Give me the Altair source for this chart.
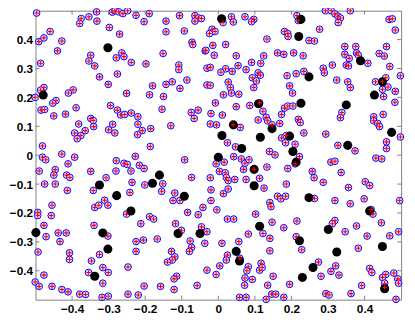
import altair as alt
import pandas as pd

# red "+" inside blue "o" points
red_x = [
    -0.497, -0.491, -0.477, -0.460, -0.486, -0.428, -0.440, -0.375, -0.379, -0.354, -0.333, -0.332, -0.298,
    -0.349, -0.354, -0.338, -0.325, -0.301, -0.477, -0.486, -0.501, -0.397, -0.410, -0.444, -0.453,
    -0.290, -0.283, -0.272, -0.261, -0.248, -0.225, -0.189, -0.203, -0.143, -0.106, -0.064, -0.055, -0.046,
    -0.064, -0.270, -0.143, -0.093, -0.072, -0.070, -0.036, -0.264, -0.279, -0.258, -0.238, -0.198, -0.151,
    -0.108, -0.108, -0.031, -0.276, -0.180, -0.143, -0.126, -0.086, -0.105, -0.251, -0.188, -0.150, -0.031,
    -0.295,
    0.036, 0.013, 0.041, 0.073, 0.097, 0.091, 0.215, 0.219, -0.017, -0.009, -0.024, 0.181, 0.190, 0.191,
    0.133, -0.015, 0.020, -0.034, -0.011, 0.049, 0.124, 0.162, 0.179, 0.206, 0.232, 0.091, 0.116, 0.054,
    -0.022, 0.020, 0.007, 0.038, 0.076, 0.109, 0.115, 0.093, 0.104, 0.188, 0.213, 0.234, 0.027, -0.022,
    0.033, 0.097, 0.195, 0.036, 0.014, 0.056, 0.203, -0.008, 0.113,
    0.293, 0.309, 0.319, 0.327, 0.334, 0.328, 0.361, 0.467, 0.476, 0.484, 0.277, 0.248, 0.263, 0.346,
    0.376, 0.346, 0.378, 0.383, 0.358, 0.460, 0.440, 0.454, 0.409, 0.350, 0.356, 0.312, 0.287, 0.290,
    0.469, 0.498, 0.324, 0.354, 0.361, 0.430, 0.458, 0.464, 0.449, 0.484, 0.452, 0.483, 0.449,
    -0.485, -0.475, -0.450, -0.418, -0.389, -0.382, -0.349, -0.342, -0.341, -0.393, -0.376, -0.386, -0.364,
    -0.300, -0.481, -0.481, -0.472, -0.428, -0.393, -0.411, -0.490, -0.446, -0.450, -0.415, -0.406, -0.349,
    -0.475, -0.446, -0.307, -0.413, -0.342, -0.311,
    -0.276, -0.267, -0.256, -0.238, -0.220, -0.220, -0.208, -0.221, -0.289, -0.283, -0.185, -0.154, -0.130,
    -0.074, -0.066, -0.055, -0.186, -0.227, -0.279, -0.258, -0.249, -0.216, -0.203, -0.280, -0.239, -0.092,
    -0.152, -0.236, -0.201, -0.073, -0.242, -0.155, -0.119, -0.105, -0.124,
    0.049, 0.086, 0.122, 0.181, 0.190, 0.204, -0.020, 0.011, -0.022, -0.005, 0.041, 0.060, 0.109, 0.131,
    0.135, 0.147, 0.173, 0.168, 0.219, 0.224, 0.173, 0.186, 0.184, 0.210, 0.025, 0.047, 0.140, 0.155,
    0.234, -0.006, 0.016, 0.042, 0.063, 0.073, 0.084, 0.069, 0.133, 0.210, 0.222, 0.190, -0.022, 0.003,
    0.019, 0.022, 0.027, 0.045, 0.076, 0.113, 0.186, 0.125, -0.020, 0.014, 0.027, 0.162, 0.171, 0.184,
    -0.020, 0.141, 0.098,
    0.338, 0.334, 0.425, 0.425, 0.436, 0.441, 0.451, 0.498, 0.294, 0.327, 0.374, 0.460, 0.460, 0.431,
    0.447, 0.308, 0.319, 0.257, 0.262, 0.287, 0.336, 0.356, 0.402, 0.414, 0.263, 0.319, 0.361, 0.399,
    0.496,
    -0.494, -0.494, -0.455, -0.457, -0.477, -0.471, -0.438, -0.416, -0.433, -0.493, -0.407, -0.407, -0.477,
    -0.501, -0.490, -0.455, -0.428, -0.411, -0.379, -0.363, -0.318, -0.301, -0.338, -0.327, -0.302, -0.325,
    -0.347, -0.316, -0.301, -0.355, -0.316, -0.340,
    -0.302, -0.251, -0.188, -0.177, -0.084, -0.055, -0.042, -0.212, -0.117, -0.101, -0.046, -0.225, -0.205,
    -0.167, -0.225, -0.128, -0.119, -0.126, -0.139, -0.077, -0.073, -0.079, -0.247, -0.114, -0.121, -0.031,
    -0.203, -0.158, -0.121, -0.058, -0.247, -0.219,
    -0.004, 0.025, 0.042, 0.102, 0.144, 0.147, 0.179, 0.215, -0.031, -0.037, 0.010, 0.082, 0.122, 0.141,
    0.056, 0.059, 0.025, 0.022, 0.141, 0.228, 0.213, 0.004, -0.006, 0.082, 0.078, 0.113, 0.117, 0.120,
    0.073, 0.093, 0.072, 0.150, 0.135, 0.195, 0.058, 0.076, 0.131, 0.146, 0.157, 0.179,
    0.423, 0.418, 0.319, 0.312, 0.378, 0.446, 0.347, 0.407, 0.469, 0.493, 0.383, 0.274, 0.281, 0.308,
    0.321, 0.330, 0.414, 0.420, 0.458, 0.449, 0.455, 0.455, 0.480, 0.491, 0.493, 0.392, 0.294, 0.303,
    0.363, 0.486,
]
red_y = [
    0.492, 0.393, 0.406, 0.428, 0.318, 0.395, 0.361, 0.473, 0.456, 0.479, 0.496, 0.464, 0.442,
    0.346, 0.326, 0.309, 0.271, 0.245, 0.234, 0.225, 0.200, 0.226, 0.215, 0.189, 0.180,
    0.495, 0.500, 0.496, 0.490, 0.500, 0.484, 0.490, 0.462, 0.464, 0.483, 0.483, 0.475, 0.473,
    0.464, 0.419, 0.427, 0.430, 0.391, 0.383, 0.361, 0.354, 0.337, 0.341, 0.321, 0.316, 0.352,
    0.312, 0.296, 0.301, 0.281, 0.240, 0.245, 0.254, 0.260, 0.231, 0.214, 0.209, 0.203, 0.243,
    0.172,
    0.479, 0.459, 0.461, 0.479, 0.470, 0.462, 0.483, 0.466, 0.436, 0.428, 0.421, 0.428, 0.421, 0.411,
    0.402, 0.380, 0.383, 0.363, 0.346, 0.344, 0.344, 0.354, 0.349, 0.354, 0.344, 0.321, 0.318, 0.310,
    0.304, 0.299, 0.287, 0.290, 0.296, 0.285, 0.277, 0.268, 0.257, 0.275, 0.282, 0.290, 0.253, 0.242,
    0.234, 0.234, 0.240, 0.215, 0.209, 0.211, 0.215, 0.181, 0.181,
    0.500, 0.500, 0.489, 0.481, 0.475, 0.459, 0.500, 0.470, 0.472, 0.433, 0.436, 0.397, 0.395, 0.376,
    0.376, 0.349, 0.354, 0.346, 0.335, 0.376, 0.352, 0.343, 0.318, 0.312, 0.309, 0.312, 0.301, 0.285,
    0.307, 0.275, 0.260, 0.254, 0.234, 0.254, 0.268, 0.236, 0.228, 0.221, 0.203, 0.183, 0.254,
    0.156, 0.158, 0.136, 0.142, 0.164, 0.108, 0.127, 0.120, 0.099, 0.077, 0.068, 0.057, 0.085,
    0.088, 0.032, -0.007, -0.016, 0.004, -0.007, -0.030, -0.055, -0.050, -0.069, -0.069, -0.077, -0.056,
    -0.100, -0.100, -0.078, -0.122, -0.122, -0.156,
    0.156, 0.139, 0.141, 0.146, 0.133, 0.107, 0.085, 0.071, 0.107, 0.077, 0.092, 0.159, 0.102,
    0.148, 0.127, 0.156, 0.030, -0.004, -0.019, -0.028, -0.032, -0.035, -0.046, -0.055, -0.055, -0.016,
    -0.099, -0.094, -0.103, -0.077, -0.129, -0.125, -0.131, -0.157, -0.157,
    0.168, 0.172, 0.152, 0.163, 0.170, 0.170, 0.144, 0.139, 0.108, 0.105, 0.105, 0.096, 0.122, 0.131,
    0.119, 0.105, 0.141, 0.110, 0.124, 0.113, 0.060, 0.068, 0.043, 0.038, 0.043, 0.029, 0.013, 0.001,
    0.077, -0.030, -0.024, -0.005, -0.013, -0.028, -0.016, -0.049, -0.041, -0.030, -0.005, -0.046, -0.078, -0.056,
    -0.061, -0.077, -0.088, -0.084, -0.084, -0.080, -0.100, -0.114, -0.120, -0.133, -0.117, -0.142, -0.151, -0.142,
    -0.157, -0.164, -0.049,
    0.148, 0.130, 0.133, 0.119, 0.110, 0.099, 0.141, 0.063, 0.073, 0.034, 0.015, 0.046, 0.023, -0.010,
    -0.013, -0.024, -0.021, -0.056, -0.078, -0.094, -0.060, -0.112, -0.092, -0.105, -0.150, -0.157, -0.168, -0.151,
    -0.157,
    -0.198, -0.209, -0.173, -0.209, -0.243, -0.282, -0.269, -0.269, -0.299, -0.335, -0.338, -0.361, -0.415,
    -0.439, -0.454, -0.454, -0.465, -0.473, -0.481, -0.482, -0.492, -0.488, -0.181, -0.173, -0.280, -0.344,
    -0.366, -0.389, -0.406, -0.406, -0.443, -0.243,
    -0.173, -0.204, -0.213, -0.221, -0.198, -0.206, -0.181, -0.237, -0.237, -0.260, -0.248, -0.299, -0.294,
    -0.290, -0.333, -0.333, -0.352, -0.363, -0.370, -0.297, -0.319, -0.333, -0.387, -0.419, -0.428, -0.398,
    -0.453, -0.454, -0.465, -0.451, -0.481, -0.484,
    -0.189, -0.221, -0.221, -0.204, -0.178, -0.232, -0.251, -0.228, -0.265, -0.305, -0.305, -0.273, -0.271, -0.288,
    -0.299, -0.357, -0.346, -0.363, -0.331, -0.327, -0.282, -0.383, -0.413, -0.386, -0.400, -0.398, -0.374, -0.389,
    -0.425, -0.430, -0.450, -0.419, -0.450, -0.447, -0.492, -0.492, -0.499, -0.481, -0.481, -0.492,
    -0.204, -0.188, -0.226, -0.237, -0.245, -0.234, -0.265, -0.280, -0.279, -0.265, -0.322, -0.370, -0.419, -0.402,
    -0.383, -0.415, -0.392, -0.406, -0.413, -0.423, -0.443, -0.458, -0.408, -0.428, -0.443, -0.451, -0.479, -0.484,
    -0.479, -0.499,
]

# black filled dots
black_x = [
    -0.302, -0.479, 0.009, 0.226, 0.220, 0.110, 0.226, 0.389, 0.248, 0.449, 0.427, 0.350,
    -0.325, -0.161, -0.180, -0.278, -0.093, 0.041, 0.147, 0.195, 0.010, 0.115, 0.064, 0.204,
    0.000, 0.098, 0.213, 0.098, 0.474, 0.354, 0.248, -0.499, -0.316, -0.302, -0.338, -0.239,
    -0.110, -0.050, 0.113, 0.049, 0.058, 0.222, 0.230, 0.414, 0.301, 0.449, 0.324, 0.259, 0.455,
]
black_y = [
    0.372, 0.208, 0.472, 0.470, 0.411, 0.178, 0.180, 0.327, 0.271, 0.254, 0.208, 0.174,
    -0.103, -0.069, -0.097, -0.140, -0.142, 0.105, 0.092, 0.066, 0.068, 0.062, 0.023, 0.013,
    -0.007, -0.049, -0.024, -0.106, 0.079, 0.034, -0.147, -0.268, -0.269, -0.325, -0.419, -0.193,
    -0.271, -0.271, -0.246, -0.333, -0.366, -0.296, -0.423, -0.193, -0.257, -0.316, -0.335, -0.389, -0.462,
]

tick_values = [-0.4, -0.3, -0.2, -0.1, 0.0, 0.1, 0.2, 0.3, 0.4]

red_df = pd.DataFrame({"x": red_x, "y": red_y})
black_df = pd.DataFrame({"x": black_x, "y": black_y})
tick_df = pd.DataFrame({"x": tick_values, "y": tick_values})

W, H = 372, 294
FRAME = "#808080"
label_expr = "datum.value == 0 ? '0' : format(datum.value, '.1f')"

xscale = alt.Scale(domain=[-0.5, 0.5], nice=False, zero=False)
yscale = alt.Scale(domain=[-0.5, 0.5], nice=False, zero=False)

common_axis = dict(
    values=tick_values, labelExpr=label_expr, tickSize=0, domain=False, grid=False,
    labelFont="Liberation Sans", labelFontWeight="bold", labelFontSize=12, labelColor="black",
    title=None,
)
xaxis = alt.Axis(labelPadding=4, **common_axis)
yaxis = alt.Axis(labelPadding=3, **common_axis)

X = alt.X("x:Q", scale=xscale, axis=xaxis)
Y = alt.Y("y:Q", scale=yscale, axis=yaxis)

circles = alt.Chart(red_df).mark_point(
    shape="circle", size=46, filled=True, fill="#f2d8f2", stroke="#0000ff",
    strokeWidth=1, opacity=1
).encode(x=X, y=Y)

blacks = alt.Chart(black_df).mark_circle(size=85, color="black", opacity=1).encode(x=X, y=Y)

pluses = alt.Chart(red_df).mark_point(
    shape="M-1,0L1,0M0,-1L0,1", size=22, filled=False, stroke="#ff0000",
    strokeWidth=1.1, opacity=1
).encode(x=X, y=Y)

tick_bottom = alt.Chart(tick_df).mark_rule(color=FRAME, strokeWidth=1).encode(
    x=X, y=alt.value(H), y2=alt.value(H - 4))
tick_top = alt.Chart(tick_df).mark_rule(color=FRAME, strokeWidth=1).encode(
    x=X, y=alt.value(0), y2=alt.value(4))
tick_left = alt.Chart(tick_df).mark_rule(color=FRAME, strokeWidth=1).encode(
    y=Y, x=alt.value(0), x2=alt.value(4))
tick_right = alt.Chart(tick_df).mark_rule(color=FRAME, strokeWidth=1).encode(
    y=Y, x=alt.value(W), x2=alt.value(W - 4))

chart = alt.layer(
    circles, blacks, pluses, tick_bottom, tick_top, tick_left, tick_right
).properties(
    width=W, height=H,
    autosize=alt.AutoSizeParams(type="none"),
    padding={"left": 28, "top": 0, "right": 6, "bottom": 22},
).configure_view(
    stroke=FRAME, strokeWidth=1
)

chart.save("out.html", embed_options={"renderer": "svg", "actions": False})
